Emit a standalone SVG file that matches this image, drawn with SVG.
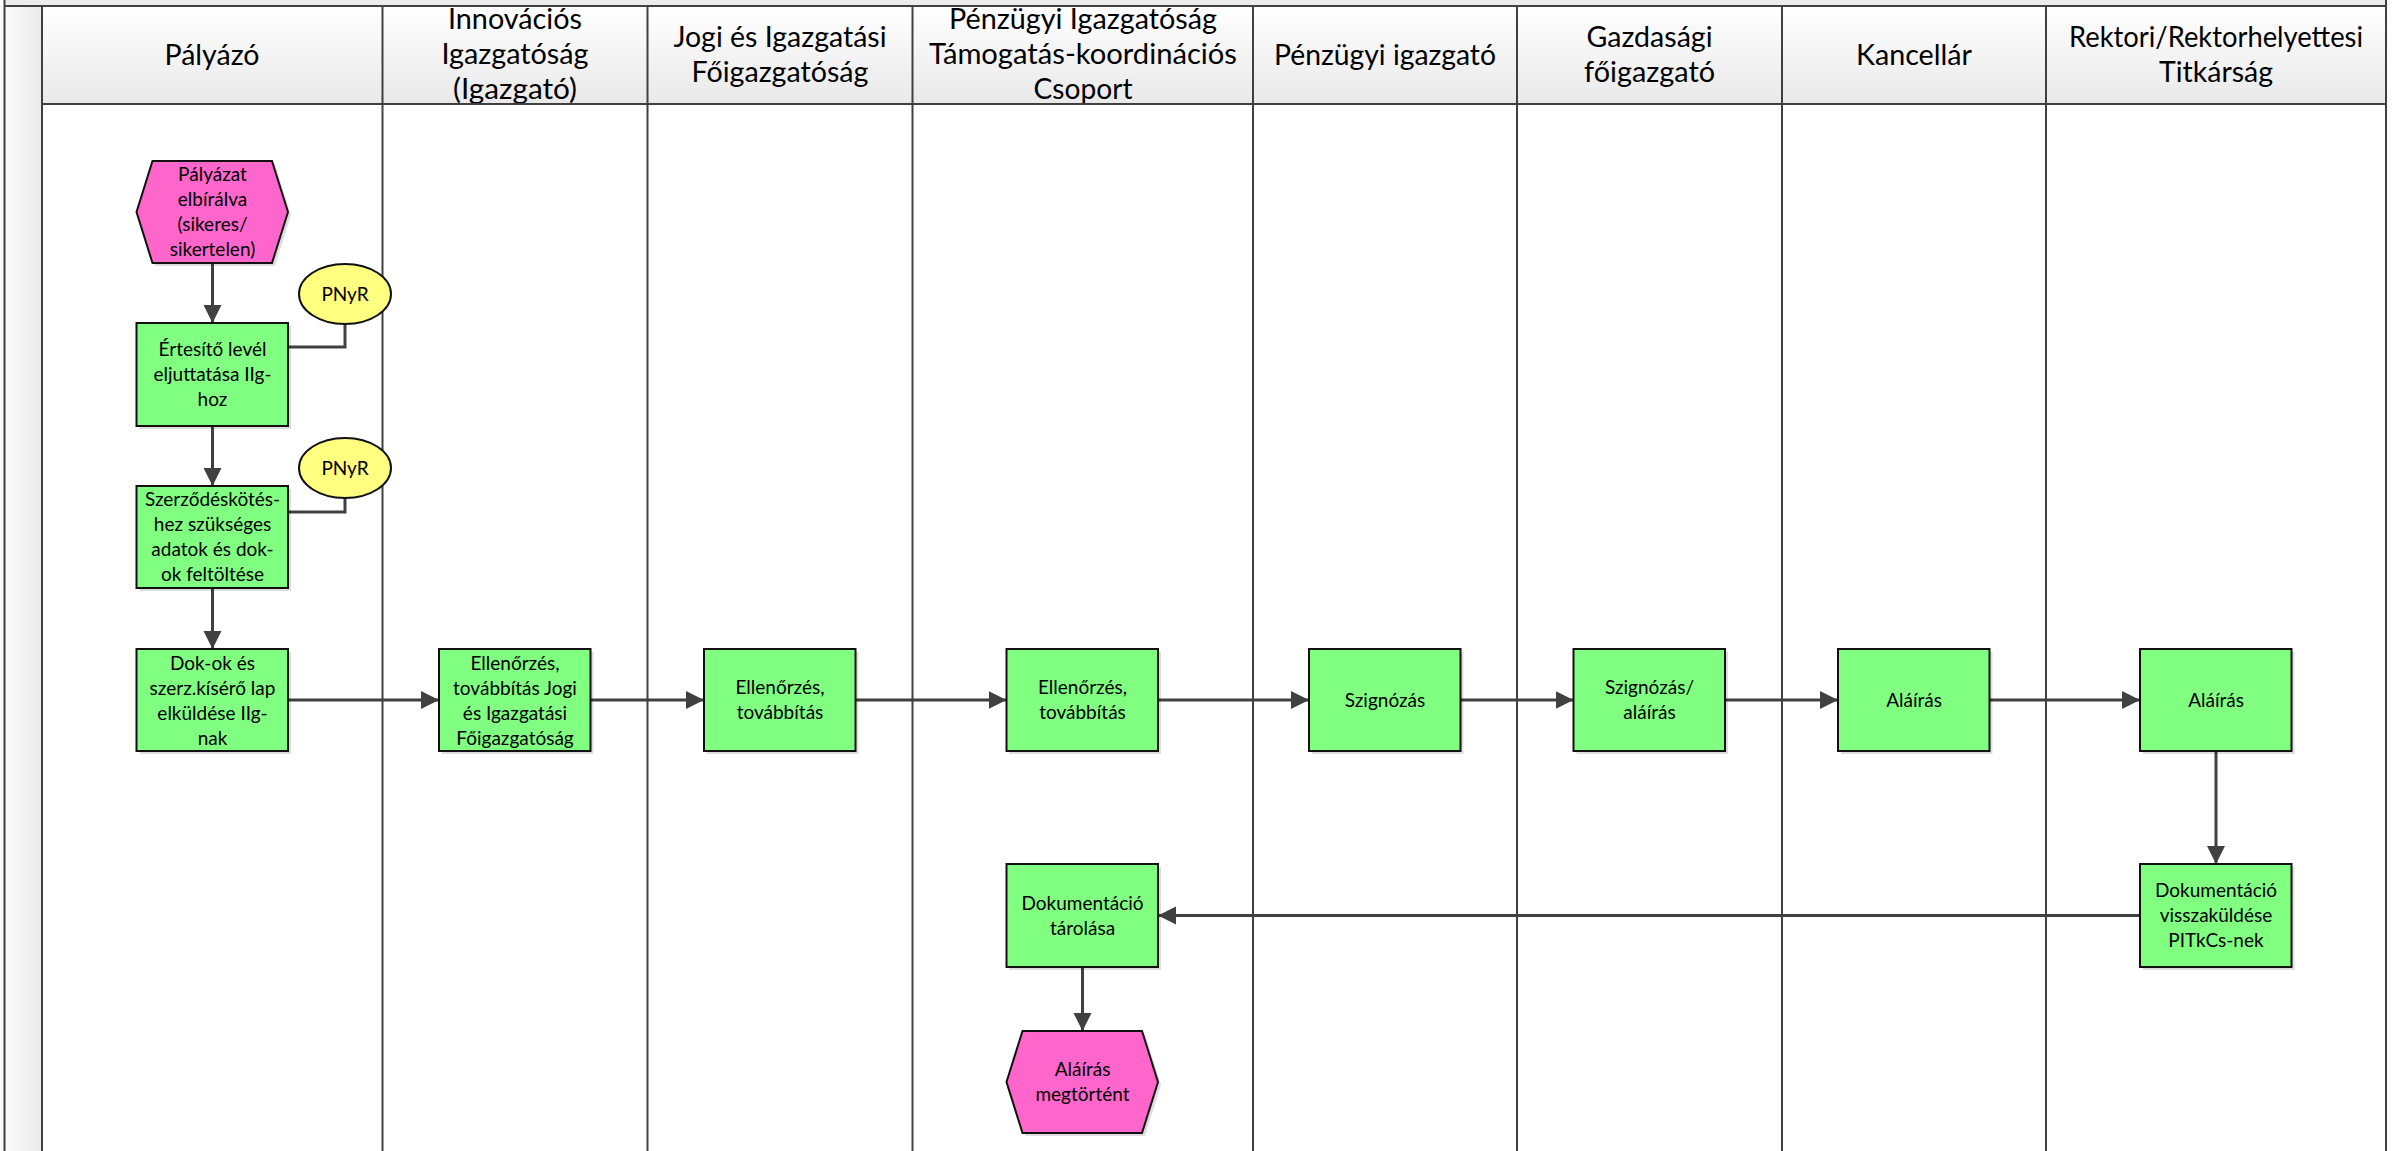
<svg xmlns="http://www.w3.org/2000/svg" width="2398" height="1151" viewBox="0 0 2398 1151">
<defs>
<linearGradient id="hdr" x1="0" y1="0" x2="0" y2="1">
<stop offset="0" stop-color="#ffffff"/>
<stop offset="1" stop-color="#e9e9e9"/>
</linearGradient>
<linearGradient id="strip" x1="0" y1="0" x2="1" y2="0">
<stop offset="0" stop-color="#fbfbfb"/>
<stop offset="1" stop-color="#ebebeb"/>
</linearGradient>
<marker id="ah" markerUnits="userSpaceOnUse" markerWidth="20" markerHeight="20" refX="18" refY="9" orient="auto">
<path d="M0,0 L18,9 L0,18 z" fill="#404040"/>
</marker>
<style>
.lane{stroke:#404040;stroke-width:2;fill:none}
.hd{font-family:Lato,"Open Sans","Liberation Sans",sans-serif;font-size:28px;fill:#000;text-anchor:middle}
.t{font-family:Lato,"Open Sans","Liberation Sans",sans-serif;font-size:19px;fill:#000;text-anchor:middle}
.box{fill:#80ff80;stroke:#111;stroke-width:2}
.ev{fill:#ff66cc;stroke:#111;stroke-width:2}
.db{fill:#ffff80;stroke:#111;stroke-width:2}
.sh{fill:#000;opacity:0.13}
.c{stroke:#404040;stroke-width:3;fill:none}
.ca{stroke:#404040;stroke-width:3;fill:none;marker-end:url(#ah)}
</style>
</defs>
<rect width="2398" height="1151" fill="#fff"/>
<g id="pool">
<rect x="42" y="6" width="2344" height="98" fill="url(#hdr)"/>
<rect x="4.5" y="6" width="37.5" height="1145" fill="url(#strip)"/>
<rect x="4.5" y="0" width="2381.5" height="6" fill="#ececec"/>
<g id="header-text">
<text class="hd" x="212" y="65" textLength="95" lengthAdjust="spacingAndGlyphs">Pályázó</text>
<text class="hd" x="515" y="29" textLength="134" lengthAdjust="spacingAndGlyphs">Innovációs</text>
<text class="hd" x="515" y="64" textLength="147" lengthAdjust="spacingAndGlyphs">Igazgatóság</text>
<text class="hd" x="515" y="99" textLength="124" lengthAdjust="spacingAndGlyphs">(Igazgató)</text>
<text class="hd" x="780" y="47" textLength="213" lengthAdjust="spacingAndGlyphs">Jogi és Igazgatási</text>
<text class="hd" x="780" y="82" textLength="177" lengthAdjust="spacingAndGlyphs">Főigazgatóság</text>
<text class="hd" x="1083" y="29" textLength="268" lengthAdjust="spacingAndGlyphs">Pénzügyi Igazgatóság</text>
<text class="hd" x="1083" y="64" textLength="308" lengthAdjust="spacingAndGlyphs">Támogatás-koordinációs</text>
<text class="hd" x="1083" y="99" textLength="99" lengthAdjust="spacingAndGlyphs">Csoport</text>
<text class="hd" x="1385" y="65" textLength="222" lengthAdjust="spacingAndGlyphs">Pénzügyi igazgató</text>
<text class="hd" x="1649.5" y="47" textLength="126" lengthAdjust="spacingAndGlyphs">Gazdasági</text>
<text class="hd" x="1649.5" y="82" textLength="131" lengthAdjust="spacingAndGlyphs">főigazgató</text>
<text class="hd" x="1914" y="65" textLength="116" lengthAdjust="spacingAndGlyphs">Kancellár</text>
<text class="hd" x="2216" y="47" textLength="294" lengthAdjust="spacingAndGlyphs">Rektori/Rektorhelyettesi</text>
<text class="hd" x="2216" y="82" textLength="114" lengthAdjust="spacingAndGlyphs">Titkárság</text>
</g>
<path class="lane" d="M4.5,0 V1151 M42,6 V1151 M382.5,6 V1151 M647.5,6 V1151 M912.5,6 V1151 M1253,6 V1151 M1517,6 V1151 M1782,6 V1151 M2046,6 V1151 M2386,0 V1151 M4.5,6 H2386 M42,104 H2386"/>
</g>
<g id="connectors">
<path class="ca" d="M212.5,263 V323"/>
<path class="c" d="M345,324 V347 H288"/>
<path class="ca" d="M212.5,426 V486"/>
<path class="c" d="M345,498 V512 H288"/>
<path class="ca" d="M212.5,588 V649"/>
<path class="ca" d="M288,700 H439"/>
<path class="ca" d="M591,700 H704"/>
<path class="ca" d="M856,700 H1006.5"/>
<path class="ca" d="M1158,700 H1309"/>
<path class="ca" d="M1461,700 H1573.5"/>
<path class="ca" d="M1725.5,700 H1838"/>
<path class="ca" d="M1990,700 H2140"/>
<path class="ca" d="M2216,751 V864"/>
<path class="ca" d="M2140,915.5 H1158"/>
<path class="ca" d="M1082.5,967 V1031"/>
</g>
<g id="n-palyazat-elbiralva">
<polygon class="sh" points="139.5,215 155.5,164 275,164 291,215 275,266 155.5,266"/>
<polygon class="ev" points="136.5,212 152.5,161 272,161 288,212 272,263 152.5,263"/>
<text class="t" x="212.5" y="181">Pályázat</text>
<text class="t" x="212.5" y="206">elbírálva</text>
<text class="t" x="212.5" y="231">(sikeres/</text>
<text class="t" x="212.5" y="256">sikertelen)</text>
</g>
<g id="n-pnyr-1">
<ellipse class="db" cx="345" cy="294" rx="46" ry="30"/>
<text class="t" x="345" y="300.5">PNyR</text>
</g>
<g id="n-ertesito">
<rect class="sh" x="139.5" y="326" width="151.5" height="103"/>
<rect class="box" x="136.5" y="323" width="151.5" height="103"/>
<text class="t" x="212.5" y="356">Értesítő levél</text>
<text class="t" x="212.5" y="381">eljuttatása IIg-</text>
<text class="t" x="212.5" y="406">hoz</text>
</g>
<g id="n-pnyr-2">
<ellipse class="db" cx="345" cy="468" rx="46" ry="30"/>
<text class="t" x="345" y="474.5">PNyR</text>
</g>
<g id="n-szerzodeskotes">
<rect class="sh" x="139.5" y="489" width="151.5" height="102"/>
<rect class="box" x="136.5" y="486" width="151.5" height="102"/>
<text class="t" x="212.5" y="506">Szerződéskötés-</text>
<text class="t" x="212.5" y="531">hez szükséges</text>
<text class="t" x="212.5" y="556">adatok és dok-</text>
<text class="t" x="212.5" y="581">ok feltöltése</text>
</g>
<g id="n-dokok-elkuldese">
<rect class="sh" x="139.5" y="652" width="151.5" height="102"/>
<rect class="box" x="136.5" y="649" width="151.5" height="102"/>
<text class="t" x="212.5" y="670">Dok-ok és</text>
<text class="t" x="212.5" y="695">szerz.kísérő lap</text>
<text class="t" x="212.5" y="720">elküldése IIg-</text>
<text class="t" x="212.5" y="745">nak</text>
</g>
<g id="n-ellenorzes-ig">
<rect class="sh" x="442" y="652" width="151.5" height="102"/>
<rect class="box" x="439" y="649" width="151.5" height="102"/>
<text class="t" x="515" y="670">Ellenőrzés,</text>
<text class="t" x="515" y="695">továbbítás Jogi</text>
<text class="t" x="515" y="720">és Igazgatási</text>
<text class="t" x="515" y="745">Főigazgatóság</text>
</g>
<g id="n-ellenorzes-jogi">
<rect class="sh" x="707" y="652" width="151.5" height="102"/>
<rect class="box" x="704" y="649" width="151.5" height="102"/>
<text class="t" x="780" y="694">Ellenőrzés,</text>
<text class="t" x="780" y="719">továbbítás</text>
</g>
<g id="n-ellenorzes-pig">
<rect class="sh" x="1009.5" y="652" width="151.5" height="102"/>
<rect class="box" x="1006.5" y="649" width="151.5" height="102"/>
<text class="t" x="1082.5" y="694">Ellenőrzés,</text>
<text class="t" x="1082.5" y="719">továbbítás</text>
</g>
<g id="n-szignozas">
<rect class="sh" x="1312" y="652" width="151.5" height="102"/>
<rect class="box" x="1309" y="649" width="151.5" height="102"/>
<text class="t" x="1385" y="706.5">Szignózás</text>
</g>
<g id="n-szignozas-alairas">
<rect class="sh" x="1576.5" y="652" width="151.5" height="102"/>
<rect class="box" x="1573.5" y="649" width="151.5" height="102"/>
<text class="t" x="1649.5" y="694">Szignózás/</text>
<text class="t" x="1649.5" y="719">aláírás</text>
</g>
<g id="n-alairas-kancellar">
<rect class="sh" x="1841" y="652" width="151.5" height="102"/>
<rect class="box" x="1838" y="649" width="151.5" height="102"/>
<text class="t" x="1914" y="706.5">Aláírás</text>
</g>
<g id="n-alairas-rektor">
<rect class="sh" x="2143" y="652" width="151.5" height="102"/>
<rect class="box" x="2140" y="649" width="151.5" height="102"/>
<text class="t" x="2216" y="706.5">Aláírás</text>
</g>
<g id="n-dok-visszakuldese">
<rect class="sh" x="2143" y="867" width="151.5" height="103"/>
<rect class="box" x="2140" y="864" width="151.5" height="103"/>
<text class="t" x="2216" y="897">Dokumentáció</text>
<text class="t" x="2216" y="922">visszaküldése</text>
<text class="t" x="2216" y="947">PITkCs-nek</text>
</g>
<g id="n-dok-tarolasa">
<rect class="sh" x="1009.5" y="867" width="151.5" height="103"/>
<rect class="box" x="1006.5" y="864" width="151.5" height="103"/>
<text class="t" x="1082.5" y="910">Dokumentáció</text>
<text class="t" x="1082.5" y="935">tárolása</text>
</g>
<g id="n-alairas-megtortent">
<polygon class="sh" points="1009.5,1085 1025.5,1034 1145,1034 1161,1085 1145,1136 1025.5,1136"/>
<polygon class="ev" points="1006.5,1082 1022.5,1031 1142,1031 1158,1082 1142,1133 1022.5,1133"/>
<text class="t" x="1082.5" y="1076">Aláírás</text>
<text class="t" x="1082.5" y="1101">megtörtént</text>
</g>
</svg>
